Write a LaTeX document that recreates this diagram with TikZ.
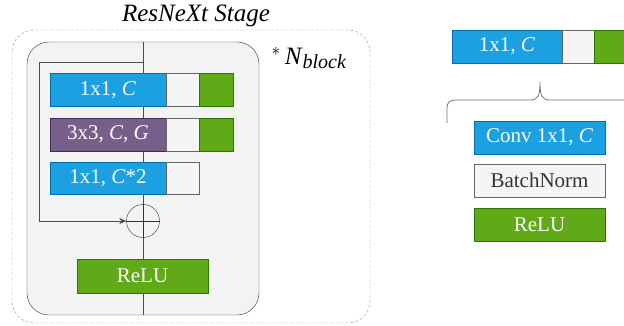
\documentclass[tikz,border=0pt]{standalone}
\usepackage{fontspec}
\setmainfont{Liberation Serif}
\usetikzlibrary{arrows.meta}

\definecolor{convfill}{HTML}{1BA1E2}
\definecolor{convline}{HTML}{006EAF}
\definecolor{grpfill}{HTML}{76608A}
\definecolor{grpline}{HTML}{432D57}
\definecolor{actfill}{HTML}{60A917}
\definecolor{actline}{HTML}{2D7600}
\definecolor{bnfill}{HTML}{F5F5F5}
\definecolor{bnline}{HTML}{666666}
\definecolor{blockfill}{HTML}{F3F3F3}

\tikzset{
    layer/.style={rectangle, minimum height=33, inner sep=0pt, font=\fontsize{21}{25}\selectfont},
    conv/.style={layer, fill=convfill, draw=convline, text=white},
    grp/.style={layer, fill=grpfill, draw=grpline, text=white},
    bn/.style={layer, fill=bnfill, draw=bnline, text=black!80},
    act/.style={layer, fill=actfill, draw=actline, text=white},
}

\begin{document}
\begin{tikzpicture}[x=1pt, y=-1pt]
            \useasboundingbox (0,0) rectangle (624,326);

            % stage and block frames
            \draw[densely dashed, black!40, rounded corners=22] (12,30) rectangle (370,323);
            \draw[black!80, fill=blockfill, rounded corners=22] (27,42) rectangle (259,315);
            \node (title) at (196,16) {\fontsize{25}{30}\selectfont\textit{ResNeXt Stage}};
            \node[anchor=west] (nblock) at (268,58) {\fontsize{25}{30}\selectfont$^{*}$\,\textit{N}\raisebox{-0.35ex}{\fontsize{20}{24}\selectfont\textit{block}}};

            % main path
            \coordinate (top) at (143,42);
            \coordinate (bottom) at (143,315);
            \coordinate (split) at (143,62);
            \draw[black!70] (top) -- (bottom);

            % layers of the block
            \node[conv, minimum width=116] (conv1) at (108,90) {1x1, \textit{C}};
            \node[bn, minimum width=33] (bn1) at (182.5,90) {};
            \node[act, minimum width=34] (act1) at (216,90) {};

            \node[grp, minimum width=116] (grp2) at (108,134.5) {3x3, \textit{C}, \textit{G}};
            \node[bn, minimum width=33] (bn2) at (182.5,134.5) {};
            \node[act, minimum width=34] (act2) at (216,134.5) {};

            \node[conv, minimum width=116, minimum height=32] (conv3) at (108,178) {1x1, \textit{C}*2};
            \node[bn, minimum width=33, minimum height=32] (bn3) at (182.5,178) {};

            \node[circle, draw=black!80, fill=blockfill, minimum size=33, inner sep=0pt] (add) at (143,221) {};
            \draw[black!80] (add.north) -- (add.south) (add.west) -- (add.east);

            \node[act, minimum width=131, minimum height=34] (relu) at (142.5,276) {ReLU};

            % skip connection
            \draw[black!70, -{Stealth[length=7pt, width=6pt]}] (split) -| (39,221) -- (add.west);

            % legend
            \node[conv, minimum width=110] (c1) at (507,46.5) {1x1, \textit{C}};
            \node[bn, minimum width=32] (b1) at (578,46.5) {};
            \node[act, minimum width=46] (a1) at (617,46.5) {};

            \draw[black!55, line width=0.8pt] (447,123) -- (447,109) .. controls (447,101) and (450,100) .. (458,100)
                -- (530,100) .. controls (538,100) and (540,96) .. (540,82)
                .. controls (540,96) and (542,100) .. (550,100) -- (640,100);

            \node[conv, minimum width=131] (conv) at (539.5,137.5) {Conv 1x1, \textit{C}};
            \node[bn, minimum width=131] (bn) at (539.5,180.5) {BatchNorm};
            \node[act, minimum width=131] (act) at (539.5,224.5) {ReLU};
        \end{tikzpicture}
\end{document}
